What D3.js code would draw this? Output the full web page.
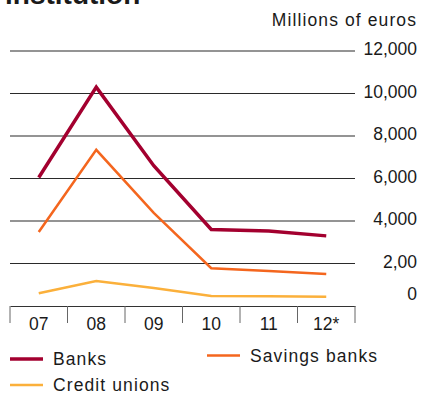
<!DOCTYPE html>
<html>
<head>
<meta charset="utf-8">
<script src="https://cdn.jsdelivr.net/npm/d3@7"></script>
<style>
  body { margin: 0; background: #fff; }
  svg { display: block; font-family: "Liberation Sans", Arial, sans-serif; fill: #1a1a1a; }
</style>
</head>
<body>
<svg id="chart" width="421" height="394"></svg>
<script>
const years = ["07", "08", "09", "10", "11", "12*"];
const banks = [6050, 10300, 6600, 3600, 3530, 3300];
const savingsBanks = [3480, 7350, 4380, 1780, 1650, 1510];
const creditUnions = [600, 1180, 850, 470, 460, 440];
const yTicks = [0, 2000, 4000, 6000, 8000, 10000, 12000];
const yTickLabels = ["0", "2,00", "4,000", "6,000", "8,000", "10,000", "12,000"];

const series = [
    { name: "Banks", values: banks, color: "#a3002f", width: 3.5 },
    { name: "Savings banks", values: savingsBanks, color: "#f4661e", width: 2.5 },
    { name: "Credit unions", values: creditUnions, color: "#fbb03b", width: 2.5 }
];

const svg = d3.select("#chart");
const fontSize = "17.5px";

// Título (cortado no topo, como na referência)
svg.append("text")
    .attr("x", 5)
    .attr("y", 4)
    .style("font-size", "28px")
    .style("font-weight", "bold")
    .text("institution");

svg.append("text")
    .attr("x", 417)
    .attr("y", 26)
    .attr("text-anchor", "end")
    .style("font-size", fontSize)
    .style("letter-spacing", "1.1px")
    .text("Millions of euros");

const x = d3.scaleBand().domain(years).range([10, 355]);
const y = d3.scaleLinear().domain([0, 12000]).range([306, 51]);

// Linhas de grade
svg.append("g")
    .selectAll("line")
    .data(yTicks.filter(d => d > 0))
    .enter()
    .append("line")
        .attr("x1", 10)
        .attr("x2", 355)
        .attr("y1", d => y(d))
        .attr("y2", d => y(d))
        .attr("stroke", "#2a2a2a")
        .attr("stroke-width", 1.2);

// Rótulos do eixo Y
svg.append("g")
    .selectAll("text")
    .data(yTicks)
    .enter()
    .append("text")
        .attr("x", 417)
        .attr("y", d => d === 0 ? y(d) - 6 : y(d) + 4)
        .attr("text-anchor", "end")
        .style("font-size", fontSize)
        .text((d, i) => yTickLabels[i]);

// Eixo X
const xAxis = d3.axisBottom(x).tickSize(0).tickSizeOuter(0).tickPadding(0);
const gx = svg.append("g")
    .attr("transform", `translate(0,${y(0)})`)
    .call(xAxis);
gx.select(".domain").attr("stroke", "#333").attr("stroke-width", 1.2);
gx.selectAll(".tick text")
    .attr("y", 23.5)
    .attr("dy", null)
    .style("font-size", fontSize)
    .style("font-family", "'Liberation Sans', Arial, sans-serif")
    .attr("fill", "#1a1a1a");

const bounds = years.map(d => x(d)).concat([x.range()[1]]);
svg.append("g")
    .selectAll("line")
    .data(bounds)
    .enter()
    .append("line")
        .attr("x1", d => d)
        .attr("x2", d => d)
        .attr("y1", y(0))
        .attr("y2", y(0) + 17)
        .attr("stroke", "#666")
        .attr("stroke-width", 1);

// Séries
const line = d3.line()
    .x((d, i) => x(years[i]) + x.bandwidth() / 2)
    .y(d => y(d));

svg.append("g")
    .selectAll("path")
    .data(series.slice().reverse())
    .enter()
    .append("path")
        .attr("d", d => line(d.values))
        .attr("fill", "none")
        .attr("stroke", d => d.color)
        .attr("stroke-width", d => d.width);

// Legenda
const legendPos = [
    { x: 10, y: 359 },
    { x: 207, y: 355.5 },
    { x: 10, y: 385 }
];
const legend = svg.append("g")
    .selectAll("g")
    .data(series)
    .enter()
    .append("g")
        .attr("transform", (d, i) => `translate(${legendPos[i].x},${legendPos[i].y})`);

legend.append("line")
    .attr("x1", 0)
    .attr("x2", 33)
    .attr("stroke", d => d.color)
    .attr("stroke-width", d => d.width);

legend.append("text")
    .attr("x", 43)
    .attr("y", 6)
    .style("font-size", fontSize)
    .style("letter-spacing", "1.1px")
    .text(d => d.name);
</script>
</body>
</html>
